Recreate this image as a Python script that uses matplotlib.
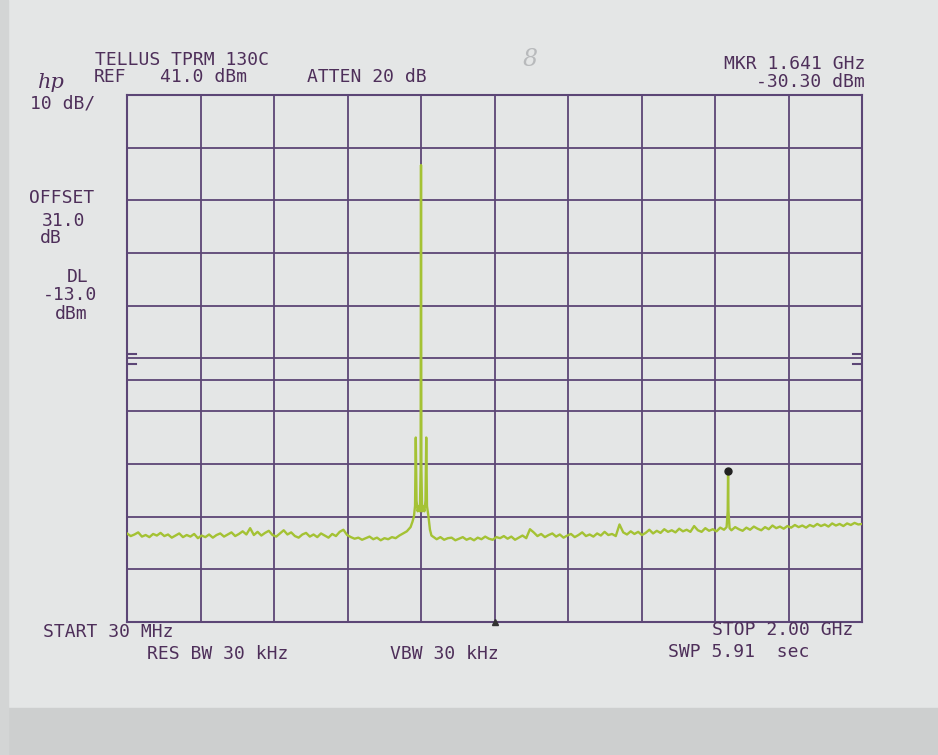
import numpy as np
import matplotlib
matplotlib.use("Agg")
import matplotlib.pyplot as plt
from matplotlib.patches import Rectangle

# analyzer settings
ref_level = 41.0      # dBm, top line
db_per_div = 10.0
start_mhz = 30.0
stop_mhz = 2000.0
display_line = -13.0  # dBm
marker_mhz = 1641.0
marker_dbm = -30.30

# trace, in pieces (MHz, dBm)
floor_lo_mhz = np.arange(30, 800, 10)
floor_lo_dbm = [-42.2, -42.7, -42.4, -42.0, -42.8, -42.5, -42.9, -42.3, -42.6, -42.1,
                -42.7, -42.4, -43.0, -42.6, -42.2, -42.9, -42.5, -42.8, -42.3, -43.1,
                -42.6, -42.9, -42.4, -43.0, -42.5, -42.2, -42.8, -42.4, -42.0, -42.7,
                -42.3, -41.8, -42.4, -41.2, -42.5, -41.9, -42.6, -42.1, -41.7, -42.5,
                -42.8, -42.2, -41.6, -42.4, -42.0, -42.7, -43.0, -42.4, -42.1, -42.8,
                -42.4, -42.9, -42.2, -42.6, -43.0, -42.3, -42.7, -41.9, -41.5, -42.5,
                -42.9, -43.2, -43.0, -43.4, -43.1, -42.8, -43.3, -43.0, -43.5, -43.1,
                -43.3, -42.9, -43.1, -42.6, -42.2, -41.8, -41.0]

carrier_mhz = [795, 799, 802, 804, 806, 809, 812, 815, 817, 818, 819, 821,
               824, 827, 830, 832, 834, 838, 842, 846]
carrier_dbm = [-40.0, -39.0, -37.0, -24.0, -36.0, -38.0, -37.0, -38.0, -30.0,
               27.7, -30.0, -38.0, -37.0, -38.0, -36.0, -24.0, -37.0, -39.0,
               -41.5, -42.6]

floor_mid_mhz = np.arange(850, 1640, 10)
floor_mid_dbm = [-42.8, -43.3, -42.9, -43.4, -43.1, -43.0, -43.5, -43.2, -42.9, -43.4,
                 -43.1, -43.5, -43.0, -43.3, -42.8, -43.2, -43.4, -42.9, -43.1, -42.7,
                 -43.2, -42.8, -43.4, -43.0, -42.6, -43.1, -41.4, -42.0, -42.7, -42.3,
                 -42.9, -42.5, -42.2, -42.8, -42.4, -43.0, -42.6, -42.3, -42.9, -42.5,
                 -42.0, -42.7, -42.4, -42.8, -42.2, -42.6, -41.9, -42.5, -42.3, -42.7,
                 -40.5, -42.0, -42.4, -41.8, -42.3, -41.9, -42.5, -42.1, -41.5, -42.2,
                 -41.7, -42.1, -41.4, -41.9, -41.6, -42.0, -41.3, -41.8, -41.5, -41.9,
                 -40.8, -41.6, -41.9, -41.2, -41.7, -41.4, -41.8, -41.1, -41.5]

spur_mhz = [1637, 1640, 1641, 1642, 1645]
spur_dbm = [-41.0, -38.0, -30.3, -38.0, -41.2]

floor_hi_mhz = np.arange(1650, 2010, 10)
floor_hi_dbm = [-41.6, -41.0, -41.4, -41.7, -41.1, -41.5, -40.9, -41.3, -41.6, -41.0,
                -41.4, -40.7, -41.2, -40.9, -41.3, -40.8, -41.1, -40.6, -41.0, -40.7,
                -41.1, -40.6, -40.9, -40.4, -40.8, -40.5, -40.9, -40.3, -40.7, -40.4,
                -40.8, -40.3, -40.6, -40.2, -40.5, -40.4]

freq_mhz = np.concatenate([floor_lo_mhz, carrier_mhz, floor_mid_mhz, spur_mhz, floor_hi_mhz])
level_dbm = np.concatenate([floor_lo_dbm, carrier_dbm, floor_mid_dbm, spur_dbm, floor_hi_dbm])

ink = "#4e2f5a"
grid_col = "#5c4676"
trace_col = "#a4c234"
paper = "#e4e6e6"

fig = plt.figure(figsize=(9.38, 7.55), dpi=100, facecolor=paper)
# darker strip at the bottom of the photo
fig.patches.append(Rectangle((0, 0), 1, 0.062, transform=fig.transFigure,
                             color="#cdcfcf", zorder=0))
fig.patches.append(Rectangle((0, 0), 0.009, 1, transform=fig.transFigure,
                             color="#d3d5d5", zorder=0))

ax = fig.add_axes([0.1354, 0.1762, 0.7836, 0.698])
ax.set_facecolor(paper)
bottom = ref_level - 10 * db_per_div
ax.set_xlim(start_mhz, stop_mhz)
ax.set_ylim(bottom, ref_level)
ax.set_xticks(np.linspace(start_mhz, stop_mhz, 11))
ax.set_yticks(np.linspace(bottom, ref_level, 11))
ax.grid(True, color=grid_col, lw=1.3)
ax.tick_params(length=0, labelbottom=False, labelleft=False)
for s in ax.spines.values():
    s.set_color(grid_col)
    s.set_linewidth(1.5)

# display line and the little ticks at the edges
ax.axhline(display_line, color=grid_col, lw=1.3)
for lv in (ref_level - 5 * db_per_div + 0.9, ref_level - 5 * db_per_div - 1.1):
    ax.axhline(lv, xmin=0, xmax=0.012, color=grid_col, lw=1.5)
    ax.axhline(lv, xmin=0.988, xmax=1, color=grid_col, lw=1.5)

ax.plot(freq_mhz, level_dbm, color=trace_col, lw=1.7, zorder=3)
ax.plot([marker_mhz], [marker_dbm], "o", color="#222222", ms=5, zorder=4)
ax.plot([(start_mhz + stop_mhz) / 2], [bottom], "^", color="#333333",
        ms=4, zorder=4, clip_on=False)

mono = "DejaVu Sans Mono"
def put(x, y, s, ha="left", size=13, **kw):
    fig.text(x / 938, 1 - y / 755, s, ha=ha, va="center", color=ink,
             family=mono, size=size, **kw)

put(95, 60, "TELLUS TPRM 130C")
put(94, 77, "REF")
put(160, 77, "41.0 dBm")
put(307, 77, "ATTEN 20 dB")
put(865, 64, "MKR 1.641 GHz", ha="right")
put(865, 82, "-30.30 dBm", ha="right")
put(30, 104, "10 dB/")
put(29, 198, "OFFSET")
put(42, 221, "31.0")
put(40, 238, "dB")
put(67, 277, "DL")
put(43, 295, "-13.0")
put(55, 314, "dBm")
put(43, 632, "START 30 MHz")
put(147, 654, "RES BW 30 kHz")
put(390, 654, "VBW 30 kHz")
put(853, 630, "STOP 2.00 GHz", ha="right")
put(668, 652, "SWP 5.91  sec")

fig.text(38 / 938, 1 - 83 / 755, "hp", color=ink, size=15, style="italic",
         family="DejaVu Serif", va="center")
fig.text(530 / 938, 1 - 60 / 755, "8", color="#b8babc", size=17,
         style="italic", family="DejaVu Serif", va="center", ha="center")

fig.savefig("out.png", dpi=100, facecolor=fig.get_facecolor())
